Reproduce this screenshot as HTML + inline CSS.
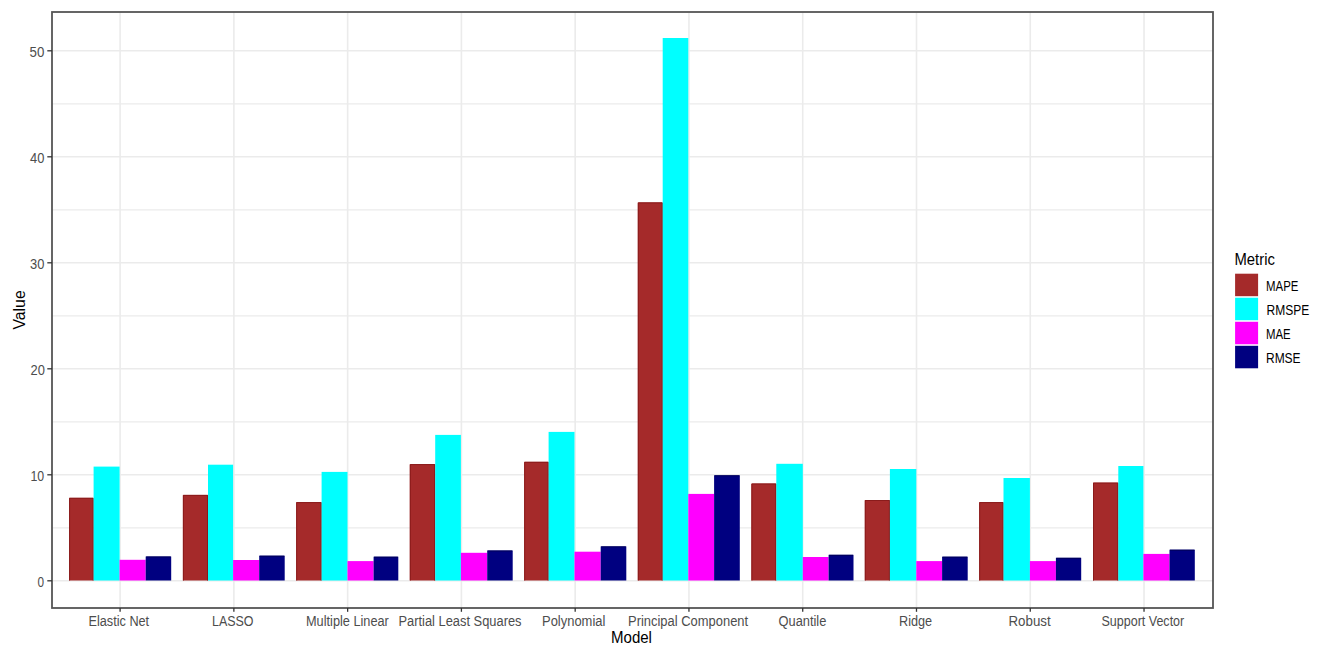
<!DOCTYPE html><html><head><meta charset="utf-8"><style>html,body{margin:0;padding:0;background:#fff;overflow:hidden;}svg{display:block;}text{font-family:"Liberation Sans",sans-serif;}</style></head><body>
<svg width="1325" height="653" viewBox="0 0 1325 653">
<rect x="0" y="0" width="1325" height="653" fill="#fff"/>
<line x1="52" x2="1213" y1="527.80" y2="527.80" stroke="#ebebeb" stroke-width="1.2"/>
<line x1="52" x2="1213" y1="421.80" y2="421.80" stroke="#ebebeb" stroke-width="1.2"/>
<line x1="52" x2="1213" y1="315.80" y2="315.80" stroke="#ebebeb" stroke-width="1.2"/>
<line x1="52" x2="1213" y1="209.80" y2="209.80" stroke="#ebebeb" stroke-width="1.2"/>
<line x1="52" x2="1213" y1="103.80" y2="103.80" stroke="#ebebeb" stroke-width="1.2"/>
<line x1="52" x2="1213" y1="580.80" y2="580.80" stroke="#ebebeb" stroke-width="1.6"/>
<line x1="52" x2="1213" y1="474.80" y2="474.80" stroke="#ebebeb" stroke-width="1.6"/>
<line x1="52" x2="1213" y1="368.80" y2="368.80" stroke="#ebebeb" stroke-width="1.6"/>
<line x1="52" x2="1213" y1="262.80" y2="262.80" stroke="#ebebeb" stroke-width="1.6"/>
<line x1="52" x2="1213" y1="156.80" y2="156.80" stroke="#ebebeb" stroke-width="1.6"/>
<line x1="52" x2="1213" y1="50.80" y2="50.80" stroke="#ebebeb" stroke-width="1.6"/>
<line x1="120.10" x2="120.10" y1="12" y2="608" stroke="#ebebeb" stroke-width="1.6"/>
<line x1="233.87" x2="233.87" y1="12" y2="608" stroke="#ebebeb" stroke-width="1.6"/>
<line x1="347.64" x2="347.64" y1="12" y2="608" stroke="#ebebeb" stroke-width="1.6"/>
<line x1="461.41" x2="461.41" y1="12" y2="608" stroke="#ebebeb" stroke-width="1.6"/>
<line x1="575.18" x2="575.18" y1="12" y2="608" stroke="#ebebeb" stroke-width="1.6"/>
<line x1="688.95" x2="688.95" y1="12" y2="608" stroke="#ebebeb" stroke-width="1.6"/>
<line x1="802.72" x2="802.72" y1="12" y2="608" stroke="#ebebeb" stroke-width="1.6"/>
<line x1="916.49" x2="916.49" y1="12" y2="608" stroke="#ebebeb" stroke-width="1.6"/>
<line x1="1030.26" x2="1030.26" y1="12" y2="608" stroke="#ebebeb" stroke-width="1.6"/>
<line x1="1144.03" x2="1144.03" y1="12" y2="608" stroke="#ebebeb" stroke-width="1.6"/>
<rect x="69.10" y="497.80" width="24.50" height="82.70" fill="#a52a2a"/>
<path d="M69.60 580.50V498.30H93.10V580.50" fill="none" stroke="#8a1b1b" stroke-width="1"/>
<rect x="93.60" y="466.60" width="26.00" height="113.90" fill="#00ffff"/>
<rect x="119.60" y="559.80" width="26.10" height="20.70" fill="#ff00ff"/>
<rect x="145.70" y="556.50" width="25.50" height="24.00" fill="#000080"/>
<path d="M146.20 557.00H170.70" fill="none" stroke="#000058" stroke-width="1"/>
<rect x="182.90" y="494.90" width="25.10" height="85.60" fill="#a52a2a"/>
<path d="M183.40 580.50V495.40H207.50V580.50" fill="none" stroke="#8a1b1b" stroke-width="1"/>
<rect x="208.00" y="464.70" width="25.10" height="115.80" fill="#00ffff"/>
<rect x="233.10" y="560.00" width="26.10" height="20.50" fill="#ff00ff"/>
<rect x="259.20" y="555.70" width="25.50" height="24.80" fill="#000080"/>
<path d="M259.70 556.20H284.20" fill="none" stroke="#000058" stroke-width="1"/>
<rect x="296.20" y="502.10" width="25.40" height="78.40" fill="#a52a2a"/>
<path d="M296.70 580.50V502.60H321.10V580.50" fill="none" stroke="#8a1b1b" stroke-width="1"/>
<rect x="321.60" y="471.90" width="25.90" height="108.60" fill="#00ffff"/>
<rect x="347.50" y="561.10" width="26.10" height="19.40" fill="#ff00ff"/>
<rect x="373.60" y="556.70" width="24.70" height="23.80" fill="#000080"/>
<path d="M374.10 557.20H397.80" fill="none" stroke="#000058" stroke-width="1"/>
<rect x="409.80" y="464.10" width="25.40" height="116.40" fill="#a52a2a"/>
<path d="M410.30 580.50V464.60H434.70V580.50" fill="none" stroke="#8a1b1b" stroke-width="1"/>
<rect x="435.20" y="434.90" width="25.70" height="145.60" fill="#00ffff"/>
<rect x="460.90" y="552.80" width="26.30" height="27.70" fill="#ff00ff"/>
<rect x="487.20" y="550.50" width="25.50" height="30.00" fill="#000080"/>
<path d="M487.70 551.00H512.20" fill="none" stroke="#000058" stroke-width="1"/>
<rect x="524.20" y="461.80" width="24.40" height="118.70" fill="#a52a2a"/>
<path d="M524.70 580.50V462.30H548.10V580.50" fill="none" stroke="#8a1b1b" stroke-width="1"/>
<rect x="548.60" y="431.90" width="25.90" height="148.60" fill="#00ffff"/>
<rect x="574.50" y="551.70" width="26.20" height="28.80" fill="#ff00ff"/>
<rect x="600.70" y="546.40" width="25.60" height="34.10" fill="#000080"/>
<path d="M601.20 546.90H625.80" fill="none" stroke="#000058" stroke-width="1"/>
<rect x="637.80" y="202.40" width="24.90" height="378.10" fill="#a52a2a"/>
<path d="M638.30 580.50V202.90H662.20V580.50" fill="none" stroke="#8a1b1b" stroke-width="1"/>
<rect x="662.70" y="38.00" width="25.60" height="542.50" fill="#00ffff"/>
<rect x="688.30" y="493.90" width="25.80" height="86.60" fill="#ff00ff"/>
<rect x="714.10" y="475.30" width="25.70" height="105.20" fill="#000080"/>
<path d="M714.60 475.80H739.30" fill="none" stroke="#000058" stroke-width="1"/>
<rect x="751.40" y="483.50" width="24.90" height="97.00" fill="#a52a2a"/>
<path d="M751.90 580.50V484.00H775.80V580.50" fill="none" stroke="#8a1b1b" stroke-width="1"/>
<rect x="776.30" y="463.80" width="26.50" height="116.70" fill="#00ffff"/>
<rect x="802.80" y="557.00" width="25.80" height="23.50" fill="#ff00ff"/>
<rect x="828.60" y="554.80" width="24.90" height="25.70" fill="#000080"/>
<path d="M829.10 555.30H853.00" fill="none" stroke="#000058" stroke-width="1"/>
<rect x="864.80" y="500.00" width="25.10" height="80.50" fill="#a52a2a"/>
<path d="M865.30 580.50V500.50H889.40V580.50" fill="none" stroke="#8a1b1b" stroke-width="1"/>
<rect x="889.90" y="469.00" width="26.40" height="111.50" fill="#00ffff"/>
<rect x="916.30" y="561.10" width="25.80" height="19.40" fill="#ff00ff"/>
<rect x="942.10" y="556.70" width="25.60" height="23.80" fill="#000080"/>
<path d="M942.60 557.20H967.20" fill="none" stroke="#000058" stroke-width="1"/>
<rect x="979.20" y="502.10" width="24.30" height="78.40" fill="#a52a2a"/>
<path d="M979.70 580.50V502.60H1003.00V580.50" fill="none" stroke="#8a1b1b" stroke-width="1"/>
<rect x="1003.50" y="478.00" width="26.40" height="102.50" fill="#00ffff"/>
<rect x="1029.90" y="561.10" width="26.00" height="19.40" fill="#ff00ff"/>
<rect x="1055.90" y="557.80" width="25.30" height="22.70" fill="#000080"/>
<path d="M1056.40 558.30H1080.70" fill="none" stroke="#000058" stroke-width="1"/>
<rect x="1093.00" y="482.60" width="25.30" height="97.90" fill="#a52a2a"/>
<path d="M1093.50 580.50V483.10H1117.80V580.50" fill="none" stroke="#8a1b1b" stroke-width="1"/>
<rect x="1118.30" y="466.00" width="25.10" height="114.50" fill="#00ffff"/>
<rect x="1143.40" y="553.90" width="26.10" height="26.60" fill="#ff00ff"/>
<rect x="1169.50" y="549.70" width="25.30" height="30.80" fill="#000080"/>
<path d="M1170.00 550.20H1194.30" fill="none" stroke="#000058" stroke-width="1"/>
<rect x="52" y="12" width="1161" height="596" fill="none" stroke="#555" stroke-width="1.8"/>
<line x1="47.3" x2="52" y1="580.80" y2="580.80" stroke="#333" stroke-width="1.3"/>
<line x1="47.3" x2="52" y1="474.80" y2="474.80" stroke="#333" stroke-width="1.3"/>
<line x1="47.3" x2="52" y1="368.80" y2="368.80" stroke="#333" stroke-width="1.3"/>
<line x1="47.3" x2="52" y1="262.80" y2="262.80" stroke="#333" stroke-width="1.3"/>
<line x1="47.3" x2="52" y1="156.80" y2="156.80" stroke="#333" stroke-width="1.3"/>
<line x1="47.3" x2="52" y1="50.80" y2="50.80" stroke="#333" stroke-width="1.3"/>
<line x1="120.10" x2="120.10" y1="608" y2="611.80" stroke="#333" stroke-width="1.3"/>
<line x1="233.87" x2="233.87" y1="608" y2="611.80" stroke="#333" stroke-width="1.3"/>
<line x1="347.64" x2="347.64" y1="608" y2="611.80" stroke="#333" stroke-width="1.3"/>
<line x1="461.41" x2="461.41" y1="608" y2="611.80" stroke="#333" stroke-width="1.3"/>
<line x1="575.18" x2="575.18" y1="608" y2="611.80" stroke="#333" stroke-width="1.3"/>
<line x1="688.95" x2="688.95" y1="608" y2="611.80" stroke="#333" stroke-width="1.3"/>
<line x1="802.72" x2="802.72" y1="608" y2="611.80" stroke="#333" stroke-width="1.3"/>
<line x1="916.49" x2="916.49" y1="608" y2="611.80" stroke="#333" stroke-width="1.3"/>
<line x1="1030.26" x2="1030.26" y1="608" y2="611.80" stroke="#333" stroke-width="1.3"/>
<line x1="1144.03" x2="1144.03" y1="608" y2="611.80" stroke="#333" stroke-width="1.3"/>
<rect x="1235.1" y="273.70" width="23" height="22.5" fill="#a52a2a"/>
<rect x="1235.1" y="297.73" width="23" height="22.5" fill="#00ffff"/>
<rect x="1235.1" y="321.76" width="23" height="22.5" fill="#ff00ff"/>
<rect x="1235.1" y="345.79" width="23" height="22.5" fill="#000080"/>
<text x="88.50" y="626.00" font-size="14" fill="#4d4d4d" textLength="60.64" lengthAdjust="spacingAndGlyphs">Elastic Net</text>
<text x="212.00" y="626.00" font-size="14" fill="#4d4d4d" textLength="41.54" lengthAdjust="spacingAndGlyphs">LASSO</text>
<text x="306.00" y="626.00" font-size="14" fill="#4d4d4d" textLength="82.87" lengthAdjust="spacingAndGlyphs">Multiple Linear</text>
<text x="398.50" y="626.00" font-size="14" fill="#4d4d4d" textLength="123.00" lengthAdjust="spacingAndGlyphs">Partial Least Squares</text>
<text x="542.00" y="626.00" font-size="14" fill="#4d4d4d" textLength="63.38" lengthAdjust="spacingAndGlyphs">Polynomial</text>
<text x="628.00" y="626.00" font-size="14" fill="#4d4d4d" textLength="120.13" lengthAdjust="spacingAndGlyphs">Principal Component</text>
<text x="778.50" y="626.00" font-size="14" fill="#4d4d4d" textLength="47.87" lengthAdjust="spacingAndGlyphs">Quantile</text>
<text x="899.00" y="626.00" font-size="14" fill="#4d4d4d" textLength="33.14" lengthAdjust="spacingAndGlyphs">Ridge</text>
<text x="1008.50" y="626.00" font-size="14" fill="#4d4d4d" textLength="42.15" lengthAdjust="spacingAndGlyphs">Robust</text>
<text x="1101.50" y="626.00" font-size="14" fill="#4d4d4d" textLength="82.73" lengthAdjust="spacingAndGlyphs">Support Vector</text>
<text x="37.50" y="586.70" font-size="14" fill="#4d4d4d" textLength="6.57" lengthAdjust="spacingAndGlyphs">0</text>
<text x="30.50" y="480.70" font-size="14" fill="#4d4d4d" textLength="13.73" lengthAdjust="spacingAndGlyphs">10</text>
<text x="30.50" y="374.70" font-size="14" fill="#4d4d4d" textLength="14.36" lengthAdjust="spacingAndGlyphs">20</text>
<text x="30.00" y="268.70" font-size="14" fill="#4d4d4d" textLength="14.36" lengthAdjust="spacingAndGlyphs">30</text>
<text x="30.00" y="162.70" font-size="14" fill="#4d4d4d" textLength="14.36" lengthAdjust="spacingAndGlyphs">40</text>
<text x="29.50" y="56.70" font-size="14" fill="#4d4d4d" textLength="14.78" lengthAdjust="spacingAndGlyphs">50</text>
<text x="611.00" y="643.20" font-size="16" fill="#000" textLength="40.93" lengthAdjust="spacingAndGlyphs">Model</text>
<text x="1234.50" y="265.40" font-size="16" fill="#000" textLength="40.35" lengthAdjust="spacingAndGlyphs">Metric</text>
<text x="1266.00" y="291.40" font-size="14" fill="#000" textLength="32.37" lengthAdjust="spacingAndGlyphs">MAPE</text>
<text x="1266.50" y="314.80" font-size="14" fill="#000" textLength="42.68" lengthAdjust="spacingAndGlyphs">RMSPE</text>
<text x="1266.00" y="339.00" font-size="14" fill="#000" textLength="24.71" lengthAdjust="spacingAndGlyphs">MAE</text>
<text x="1266.00" y="362.70" font-size="14" fill="#000" textLength="34.60" lengthAdjust="spacingAndGlyphs">RMSE</text>
<text transform="translate(24.70,329.50) rotate(-90)" font-size="16" fill="#000" textLength="39.16" lengthAdjust="spacingAndGlyphs">Value</text>
</svg></body></html>
